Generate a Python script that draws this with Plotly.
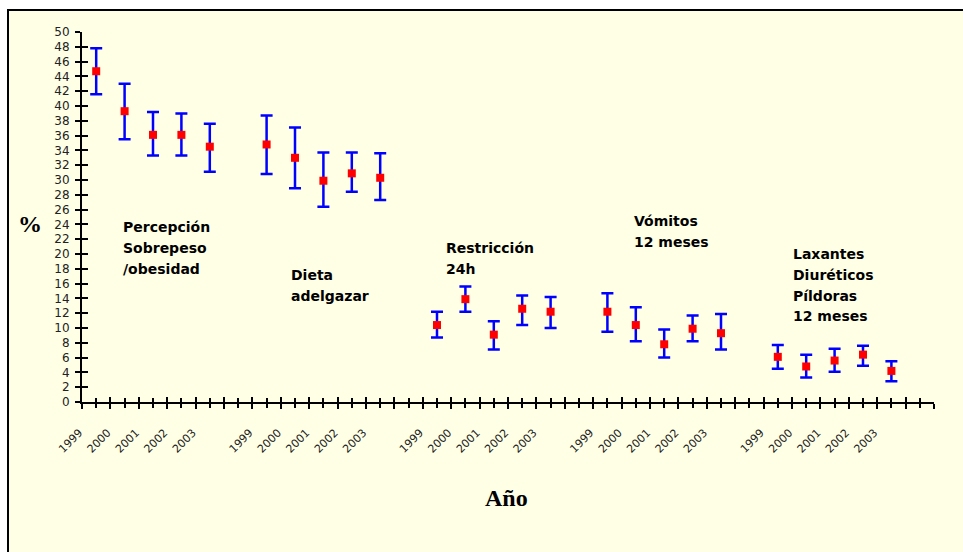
import plotly.graph_objects as go

# ---- data ----
groups = [
    ["Percepción", "Sobrepeso", "/obesidad"],
    ["Dieta", "adelgazar"],
    ["Restricción", "24h"],
    ["Vómitos", "12 meses"],
    ["Laxantes", "Diuréticos", "Píldoras", "12 meses"],
]
years = ["1999", "2000", "2001", "2002", "2003"]

perc_val = [44.7, 39.3, 36.1, 36.1, 34.5]
perc_hi = [47.8, 43.0, 39.2, 39.0, 37.6]
perc_lo = [41.6, 35.5, 33.3, 33.3, 31.1]

dieta_val = [34.8, 33.0, 29.9, 30.9, 30.3]
dieta_hi = [38.7, 37.1, 33.7, 33.7, 33.6]
dieta_lo = [30.8, 28.9, 26.4, 28.4, 27.3]

restr_val = [10.4, 13.9, 9.1, 12.6, 12.2]
restr_hi = [12.2, 15.6, 10.9, 14.4, 14.2]
restr_lo = [8.7, 12.2, 7.1, 10.4, 10.0]

vom_val = [12.2, 10.4, 7.8, 9.9, 9.3]
vom_hi = [14.7, 12.8, 9.8, 11.7, 11.9]
vom_lo = [9.5, 8.2, 6.0, 8.2, 7.1]

lax_val = [6.1, 4.8, 5.6, 6.4, 4.2]
lax_hi = [7.7, 6.4, 7.2, 7.6, 5.5]
lax_lo = [4.5, 3.3, 4.1, 4.9, 2.8]

series_val = [perc_val, dieta_val, restr_val, vom_val, lax_val]
series_hi = [perc_hi, dieta_hi, restr_hi, vom_hi, lax_hi]
series_lo = [perc_lo, dieta_lo, restr_lo, vom_lo, lax_lo]

# ---- build category positions (5 years + 1 empty slot per group) ----
slots = len(years) + 1
n_cat = slots * len(groups)
xs, ys, up, dn = [], [], [], []
for g in range(len(groups)):
    for i in range(len(years)):
        xs.append(g * slots + i + 0.5)
        v = series_val[g][i]
        ys.append(v)
        up.append(series_hi[g][i] - v)
        dn.append(v - series_lo[g][i])

tickvals = [k + 0.5 for k in range(n_cat)]
ticktext = [(years[k % slots] if k % slots < len(years) else "") for k in range(n_cat)]

fig = go.Figure()
fig.add_trace(go.Scatter(
    x=xs, y=ys, mode="markers",
    marker=dict(symbol="square", size=8, color="#FF0000"),
    error_y=dict(type="data", symmetric=False, array=up, arrayminus=dn,
                 color="#0000FF", thickness=2.5, width=6),
    showlegend=False, hoverinfo="skip",
))

tickfont = dict(family="DejaVu Sans", size=12, color="#222222")

W, H = 963, 552
ml, mr, mt, mb = 82, 29, 32, 150
pw, ph = W - ml - mr, H - mt - mb

def px2paper_x(px):
    return (px - ml) / pw

def px2paper_y(py):
    return (H - mb - py) / ph

fig.update_layout(
    width=W, height=H,
    margin=dict(l=ml, r=mr, t=mt, b=mb, pad=0),
    paper_bgcolor="white", plot_bgcolor="white",
    xaxis=dict(range=[0, n_cat], tickmode="array", tickvals=tickvals, ticktext=ticktext,
               tickangle=-45, tickfont=dict(family="DejaVu Sans", size=11, color="#222222"),
               ticks="outside", ticklen=4, tickwidth=2, tickcolor="black",
               minor=dict(tickmode="array", tickvals=list(range(n_cat + 1)), ticks="outside",
                          ticklen=5, tickwidth=2, tickcolor="black"),
               showline=True, linecolor="black", linewidth=2, showgrid=False, zeroline=False,
               ticklabelstandoff=14, ticklabelshift=-17),
    xaxis2=dict(range=[0, n_cat], overlaying="x", anchor="y", side="bottom",
                tickmode="array", tickvals=tickvals, ticks="inside", ticklen=4, tickwidth=2,
                tickcolor="black", showticklabels=False, showline=False, showgrid=False,
                zeroline=False,
                minor=dict(tickmode="array", tickvals=list(range(n_cat + 1)), ticks="inside",
                           ticklen=5, tickwidth=2, tickcolor="black")),
    yaxis=dict(range=[0, 50], tickmode="linear", tick0=0, dtick=2, tickfont=tickfont,
               ticks="outside", ticklen=5, tickwidth=2, tickcolor="black",
               showline=True, linecolor="black", linewidth=2, showgrid=False, zeroline=False,
               ticklabelstandoff=3),
    yaxis2=dict(range=[0, 50], overlaying="y", anchor="x", side="left",
                tickmode="linear", tick0=0, dtick=2, ticks="inside", ticklen=6, tickwidth=2,
                tickcolor="black", showticklabels=False, showline=False, showgrid=False,
                zeroline=False),
)

# invisible helper trace so overlay axes get drawn
fig.add_trace(go.Scatter(x=[], y=[], xaxis="x2", yaxis="y2", showlegend=False))

# outer frame (cream background with black border)
fig.add_shape(type="rect", xref="paper", yref="paper", layer="below",
              x0=px2paper_x(8), x1=px2paper_x(990), y0=px2paper_y(580), y1=px2paper_y(10),
              fillcolor="#FFFFE6", line=dict(color="black", width=2))

# group labels
label_pos = [(1.38, 20.85), (7.3, 15.8), (12.73, 19.4), (19.35, 23.0), (24.97, 15.85)]
for lines, (lx, ly) in zip(groups, label_pos):
    txt = "<br>".join("<span style='font-size:14px'>%s</span>" % s for s in lines)
    fig.add_annotation(x=lx, y=ly, xref="x", yref="y", text="<b>" + txt + "</b>",
                       showarrow=False, xanchor="left", yanchor="middle", align="left",
                       font=dict(family="DejaVu Sans", size=16, color="black"))

fig.add_annotation(x=px2paper_x(30), y=px2paper_y(224), xref="paper", yref="paper",
                   text="<b>%</b>", showarrow=False, xanchor="center", yanchor="middle",
                   font=dict(family="Liberation Serif", size=24, color="black"))
fig.add_annotation(x=px2paper_x(506), y=px2paper_y(498), xref="paper", yref="paper",
                   text="<b>Año</b>", showarrow=False, xanchor="center", yanchor="middle",
                   font=dict(family="Liberation Serif", size=24, color="black"))

fig.write_html("out.html")
